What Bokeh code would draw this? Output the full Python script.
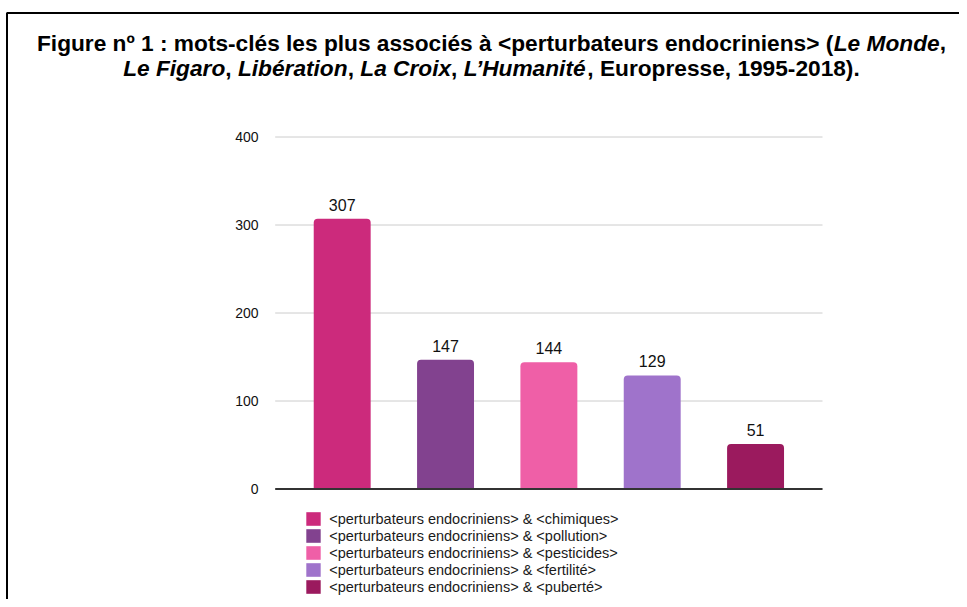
from bokeh.plotting import figure
from bokeh.models import (ColumnDataSource, Range1d, LabelSet, Legend, LegendItem)
from bokeh.core.properties import value
from bokeh.embed import file_html
from bokeh.resources import INLINE

# ---- data ----
keywords = ["<chimiques>", "<pollution>", "<pesticides>", "<fertilité>", "<puberté>"]
series_prefix = "<perturbateurs endocriniens> & "
values = [307, 147, 144, 129, 51]
y_ticks = [0, 100, 200, 300, 400]
colors = ["#cc2a7c", "#82428f", "#ef5fa7", "#9f73cb", "#9b1a5e"]

labels = [series_prefix + k for k in keywords]
xpos = list(range(len(keywords)))

# ---- canvas geometry (pixels) ----
W, H = 959, 599
PX_X = 103.34          # pixels per category step
X0_PX = 341.7          # centre of first category
PX_Y = 0.88            # pixels per unit
Y0_PX = 488.5          # pixel row of value 0
PLOT_L, PLOT_R = 274.7, 822.0

def sx(px):
    return (px - X0_PX) / PX_X

def sy(py):
    return (Y0_PX - py) / PX_Y

p = figure(width=W, height=H, output_backend="svg", toolbar_location=None,
           x_range=Range1d(sx(0), sx(W)), y_range=Range1d(sy(H), sy(0)),
           x_axis_location=None, y_axis_location=None,
           min_border=0, min_border_left=0, min_border_right=0,
           min_border_top=0, min_border_bottom=0)
p.outline_line_color = None
p.grid.visible = False
p.background_fill_color = "white"
p.border_fill_color = "white"

FONT = "Liberation Sans"

# grid lines and baseline
p.segment(x0=[sx(PLOT_L)] * len(y_ticks), x1=[sx(PLOT_R)] * len(y_ticks),
          y0=y_ticks, y1=y_ticks, line_color="#cccccc", line_width=1)

src = ColumnDataSource(dict(x=xpos, v=values, c=colors, lab=labels,
                            t=[str(v) for v in values]))
r = p.vbar(x="x", top="v", width=0.551, source=src, fill_color="c", line_color=None,
           border_radius=(4, 4, 0, 0))

p.segment(x0=[sx(PLOT_L)], x1=[sx(PLOT_R)], y0=[y_ticks[0]], y1=[y_ticks[0]],
          line_color="#333333", line_width=2)

# y tick labels
p.text(x=[sx(258)] * len(y_ticks), y=y_ticks, text=[str(t) for t in y_ticks],
       text_align="right", text_baseline="middle", text_font=value(FONT),
       text_font_size="14px", text_color="#111111")

# value labels
p.add_layout(LabelSet(x="x", y="v", text="t", source=src, y_offset=8,
                      text_align="center", text_baseline="alphabetic",
                      text_font=value(FONT), text_font_size="16px",
                      text_color="#111111"))

# legend
items = [LegendItem(label=labels[i], renderers=[r], index=i) for i in range(len(labels))]
leg = Legend(items=items, location=(304.2, H - 595.3),
             glyph_width=18, glyph_height=17, spacing=0, padding=0, margin=0,
             label_standoff=7, label_height=17,
             label_text_font=FONT, label_text_font_size="14.5px",
             label_text_color="#1a1a1a", border_line_color=None,
             background_fill_alpha=0)
p.add_layout(leg)

# frame border (top and left)
p.line(x=[sx(6.5), sx(6.5), sx(W + 5)], y=[sy(H + 5), sy(12.5), sy(12.5)],
       line_color="black", line_width=2)

# title with mixed bold / bold italic
AFM = {' ': 278, '(': 333, ')': 333, ',': 278, '-': 333, '.': 278, ':': 333, '<': 584, '>': 584,
       '’': 278, 'C': 722, 'E': 667, 'F': 611, 'H': 722, 'L': 611, 'M': 833,
       'a': 556, 'b': 611, 'c': 556, 'd': 611, 'e': 556, 'f': 333, 'g': 611, 'h': 611, 'i': 278,
       'l': 278, 'm': 889, 'n': 611, 'o': 611, 'p': 611, 'r': 389, 's': 556, 't': 333, 'u': 611,
       'x': 556, 'é': 556, 'à': 556, 'º': 365}
for d in "0123456789":
    AFM[d] = 556

TS = 22.7
def tw(s):
    return sum(AFM.get(ch, 556) for ch in s) / 1000.0 * TS

title_lines = [
    [("Figure nº 1 : mots-clés les plus associés à <perturbateurs endocriniens> (", "bold"),
     ("Le Monde", "bold italic"), (",", "bold")],
    [("Le Figaro", "bold italic"), (", ", "bold"), ("Libération", "bold italic"), (", ", "bold"),
     ("La Croix", "bold italic"), (", ", "bold"), ("L’Humanité", "bold italic"),
     (", Europresse, 1995-2018).", "bold")],
]
baselines = [42, 67]
center_x = 491
seg = {"bold": dict(x=[], y=[], t=[]), "bold italic": dict(x=[], y=[], t=[])}
for segs, by in zip(title_lines, baselines):
    total = sum(tw(s) for s, _ in segs)
    x = center_x - total / 2
    for s, st in segs:
        seg[st]["x"].append(sx(x))
        seg[st]["y"].append(sy(by))
        seg[st]["t"].append(s)
        x += tw(s)
for st, d in seg.items():
    p.text(x=d["x"], y=d["y"], text=d["t"], text_font=value(FONT),
           text_font_style=st, text_font_size=f"{TS}px", text_color="black",
           text_align="left", text_baseline="alphabetic")

open("out.html", "w").write(file_html(p, INLINE))
